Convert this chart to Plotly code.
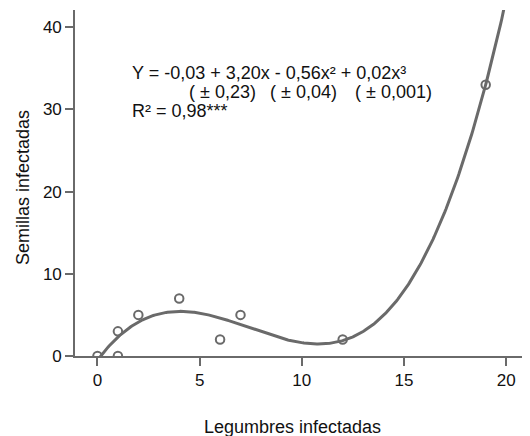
import numpy as np
import plotly.graph_objects as go

legumbres = [0, 1, 1, 2, 4, 6, 7, 12, 19]
semillas = [0, 3, 0, 5, 7, 2, 5, 2, 33]

x_ticks = [0, 5, 10, 15, 20]
y_ticks = [0, 10, 20, 30, 40]

x_title = "Legumbres infectadas"
y_title = "Semillas infectadas"
eq_line1 = "Y = -0,03 + 3,20x - 0,56x² + 0,02x³"
eq_errors = ["( ± 0,23)", "( ± 0,04)", "( ± 0,001)"]
eq_line3 = "R² = 0,98***"

# Cubic regression fitted to the data
coef = np.polyfit(legumbres, semillas, 3)
xf = np.linspace(0, 21, 400)
yf = np.polyval(coef, xf)

gray = "#6a6a6a"
font = "Liberation Sans, Arial, sans-serif"
txt_col = "#111111"

OFF = 8  # page body margin offset
W, H = 530, 436
L, T = 75 - OFF, 10 - OFF
R = W - (528 - OFF)
B = H - (356 - OFF)
pw, ph = W - L - R, H - T - B

fig = go.Figure()
fig.add_trace(go.Scatter(x=xf, y=yf, mode="lines",
                         line=dict(color=gray, width=3), hoverinfo="skip"))
fig.add_trace(go.Scatter(x=legumbres, y=semillas, mode="markers",
                         marker=dict(symbol="circle-open", size=8.5,
                                     color=gray, line=dict(width=2, color=gray))))

axis_common = dict(showline=True, linecolor=gray, linewidth=1.6,
                   ticks="outside", ticklen=8, tickwidth=1.6, tickcolor=gray,
                   showgrid=False, zeroline=False, automargin=False,
                   tickfont=dict(family=font, size=17, color=txt_col))

fig.update_layout(
    width=W, height=H,
    margin=dict(l=L, r=R, t=T, b=B),
    plot_bgcolor="white", paper_bgcolor="white",
    showlegend=False,
    font=dict(family=font, size=17, color=txt_col),
    xaxis=dict(range=[-1.1, 21.07], tickvals=x_ticks, **axis_common),
    yaxis=dict(range=[0, 42.1], tickvals=y_ticks, **axis_common),
)


def px2paper(xx, yy):
    # page pixel -> paper coords
    xx, yy = xx - OFF, yy - OFF
    return (xx - L) / pw, (H - B - yy) / ph


ax, ay = px2paper(292, 427)
fig.add_annotation(x=ax, y=ay, xref="paper", yref="paper", text=x_title,
                   showarrow=False, xanchor="center", yanchor="middle",
                   font=dict(family=font, size=18, color=txt_col))
ax, ay = px2paper(23, 188)
fig.add_annotation(x=ax, y=ay, xref="paper", yref="paper", text=y_title,
                   showarrow=False, xanchor="center", yanchor="middle",
                   textangle=-90, font=dict(family=font, size=18, color=txt_col))

ann_font = dict(family=font, size=18, color=txt_col)
items = [(eq_line1, 134, 73), (eq_line3, 134, 111)]
items += [(t, xx, 92) for t, xx in zip(eq_errors, [191, 272, 357])]
for txt, xx, yy in items:
    ax, ay = px2paper(xx - 3, yy)
    fig.add_annotation(x=ax, y=ay, xref="paper", yref="paper",
                       text=txt, showarrow=False, xanchor="left", yanchor="middle",
                       borderpad=0, font=ann_font)

fig.write_html("out.html")
